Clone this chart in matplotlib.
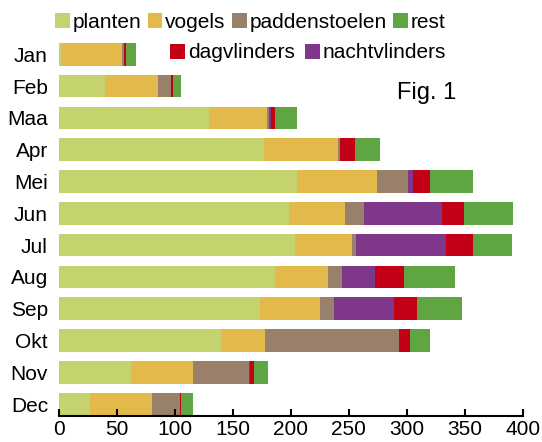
import matplotlib.pyplot as plt
import numpy as np

plt.rcParams['font.family'] = ['Liberation Sans', 'DejaVu Sans']

maanden = ['Jan', 'Feb', 'Maa', 'Apr', 'Mei', 'Jun', 'Jul', 'Aug', 'Sep', 'Okt', 'Nov', 'Dec']

planten = [2, 40, 129, 177, 205, 198, 204, 186, 173, 140, 62, 27]
vogels = [52, 45, 50, 64, 69, 49, 49, 46, 52, 38, 54, 53]
paddenstoelen = [2, 12, 2, 1, 27, 16, 3, 12, 12, 115, 48, 24]
nachtvlinders = [0, 0, 2, 0, 4, 67, 78, 29, 52, 0, 1, 0]
dagvlinders = [2, 1, 3, 13, 15, 19, 23, 25, 20, 10, 3, 1]
rest = [8, 7, 19, 22, 37, 43, 34, 44, 39, 17, 12, 11]

series = [
    ('planten', planten, '#c5d36e'),
    ('vogels', vogels, '#e3b94b'),
    ('paddenstoelen', paddenstoelen, '#99806a'),
    ('nachtvlinders', nachtvlinders, '#7f3889'),
    ('dagvlinders', dagvlinders, '#c30016'),
    ('rest', rest, '#5fa541'),
]

fig = plt.figure(figsize=(5.42, 4.42), dpi=100)
ax = fig.add_axes([59 / 542, 26.5 / 442, 463.7 / 542, 405.7 / 442])

y = np.arange(len(maanden))
links = np.zeros(len(maanden))
bars = {}
for naam, waarden, kleur in series:
    bars[naam] = ax.barh(y, waarden, left=links, height=0.71, color=kleur, label=naam)
    links += np.array(waarden)

ax.set_xlim(0, 400)
ax.set_ylim(11.357, -1.4)
ax.set_yticks(y)
ax.set_yticklabels(maanden, fontsize=15)
ax.set_xticks(np.arange(0, 401, 50))
ax.tick_params(axis='x', direction='in', length=5, width=1.5, labelsize=15, pad=3)
ax.tick_params(axis='y', length=0, pad=8)
for s in ['top', 'right', 'left']:
    ax.spines[s].set_visible(False)
ax.spines['bottom'].set_linewidth(1.5)

kw = dict(frameon=False, fontsize=15, handlelength=0.7, handleheight=0.7,
          handletextpad=0.15, borderpad=0, borderaxespad=0)
leg1 = fig.legend([bars[n] for n in ['planten', 'vogels', 'paddenstoelen', 'rest']],
                  ['planten', 'vogels', 'paddenstoelen', 'rest'], columnspacing=0.3,
                  ncol=4, loc='center left', bbox_to_anchor=(55 / 542, 1 - 22 / 442), **kw)
leg2 = fig.legend([bars[n] for n in ['dagvlinders', 'nachtvlinders']],
                  ['dagvlinders', 'nachtvlinders'], columnspacing=0.5,
                  ncol=2, loc='center left', bbox_to_anchor=(170 / 542, 1 - 53 / 442), **kw)

fig.text(427 / 542, 1 - 93 / 442, 'Fig. 1', fontsize=17, ha='center', va='center')

fig.savefig('out.png', dpi=100)
